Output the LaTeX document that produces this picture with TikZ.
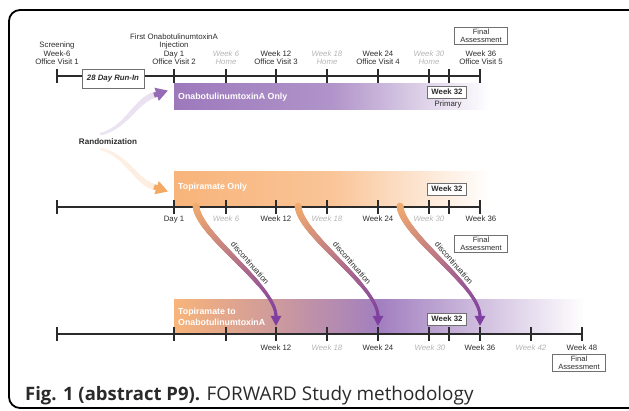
\documentclass[tikz,border=0pt]{standalone}
\usepackage{fontspec}
\setmainfont{Liberation Sans}
\newfontfamily\capfont{Open Sans}
\usetikzlibrary{arrows.meta,decorations.markings}
\definecolor{tlc}{HTML}{2B2B2B}
\definecolor{lgray}{HTML}{B5B5B5}
\definecolor{bpurple}{HTML}{9D79BC}
\definecolor{borange}{HTML}{F8B47A}
\definecolor{dpurple}{HTML}{7E3FA0}
\definecolor{corange}{HTML}{F2AC6E}
\definecolor{boxgray}{HTML}{707070}
\definecolor{capc}{HTML}{2A2A2A}
\tikzset{
  tline/.style={tlc, line width=2pt},
  tick/.style={tlc, line width=1.8pt},
  lab/.style={font=\fontsize{7.8}{8.4}\selectfont, text=tlc, align=center, inner sep=0pt},
  glab/.style={lab, text=lgray, font=\fontsize{7.8}{8.4}\selectfont\itshape},
  fabox/.style={draw=boxgray, line width=0.7pt, fill=white, align=center, inner sep=0.5pt,
    minimum width=53pt, minimum height=17pt, font=\fontsize{7.6}{8.2}\selectfont, text=tlc},
  wkbox/.style={draw=boxgray, line width=0.7pt, fill=white, inner sep=0.5pt,
    minimum width=39pt, minimum height=12pt, font=\fontsize{7.8}{8.4}\selectfont\bfseries, text=tlc},
  bandtext/.style={anchor=west, text=white, align=left, inner sep=0pt,
    font=\fontsize{8.8}{11}\selectfont\bfseries},
  disclab/.style={font=\fontsize{8}{8.4}\selectfont, text=tlc, rotate=-49, inner sep=0pt},
  gstroke/.style n args={4}{
    decoration={markings,
      mark=between positions 0 and 1 step 0.4pt with {%
        \pgfmathsetmacro\gpp{\pgfkeysvalueof{/pgf/decoration/mark info/distance from start}/\pgfdecoratedpathlength}%
        \pgfmathtruncatemacro\gpc{100*\gpp}%
        \pgfmathsetmacro\grr{#3+(#4-#3)*\gpp}%
        \fill[#2!\gpc!#1] (0pt,0pt) circle[radius=\grr pt];%
      }},
    decorate},
  darrow/.style={dpurple, line width=2.6pt, -{Triangle[length=10pt,width=10pt]}}
}
\begin{document}
\begin{tikzpicture}[x=1pt,y=-1pt]
\useasboundingbox (0,0) rectangle (629,411);
\clip (0,0) rectangle (629,411);
% frame
\draw[line width=1.8pt, rounded corners=11pt] (9,10) rectangle (645,408);

% bands
\shade[left color=bpurple, right color=white, middle color=bpurple!80!white] (174,84) rectangle (490,110);
\shade[left color=borange, right color=white, middle color=borange!78!white] (174,172) rectangle (490,206);
\shade[left color=borange, right color=white, middle color=bpurple!95!white] (174,300) rectangle (585,333);
\node[bandtext] (b1t) at (178,97) {OnabotulinumtoxinA Only};
\node[bandtext] (b2t) at (178,187) {Topiramate Only};
\node[bandtext] (b3t) at (178,316.5) {Topiramate to\\OnabotulinumtoxinA};

% timeline 1
\coordinate (t1s) at (57,76);
\coordinate (t1e) at (480,76);
\draw[tline] (t1s) -- (t1e);
\foreach \x in {57,174,226,276,327,378,429,449,480} \draw[tick] (\x,69) -- (\x,83);
\node[lab, anchor=south] (scr) at (57,65) {Screening\\Week-6\\Office Visit 1};
\node[lab, anchor=south] (first) at (174,65) {First OnabotulinumtoxinA\\Injection\\Day 1\\Office Visit 2};
\node[glab, anchor=south] (a6) at (226,65) {Week 6\\Home};
\node[lab, anchor=south] (a12) at (276,65) {Week 12\\Office Visit 3};
\node[glab, anchor=south] (a18) at (327,65) {Week 18\\Home};
\node[lab, anchor=south] (a24) at (378,65) {Week 24\\Office Visit 4};
\node[glab, anchor=south] (a30) at (429,65) {Week 30\\Home};
\node[lab, anchor=south] (a36) at (481,65) {Week 36\\Office Visit 5};
\node[fabox] (fa1) at (481,36) {Final\\Assessment};
\node[draw=boxgray, line width=0.7pt, fill=white, minimum width=62pt, minimum height=19pt, inner sep=0pt,
  font=\fontsize{7.8}{8.4}\selectfont\bfseries\itshape, text=tlc] (runin) at (113,78.5) {28 Day Run-In};
\node[wkbox] (w32a) at (447,92) {Week 32};
\node[lab] (prim) at (448,104) {Primary};

% randomization
\node[font=\fontsize{8.1}{9}\selectfont\bfseries, text=tlc, inner sep=0pt] (rand) at (108,142) {Randomization};
\coordinate (rp0) at (101,134);
\coordinate (rp1) at (156,94.5);
\coordinate (rp2) at (168,90.5);
\coordinate (ro0) at (101,149);
\coordinate (ro1) at (156,187.5);
\coordinate (ro2) at (168,191.5);
\path[gstroke={bpurple!20!white}{bpurple!75!dpurple}{1.3}{3}] (rp0) .. controls (128,127) and (136,99) .. (rp1);
\draw[bpurple!75!dpurple, line width=5pt, -{Triangle[length=12pt,width=13pt]}] (154,95.2) -- (rp2);
\path[gstroke={borange!20!white}{corange!90!orange}{1.3}{3}] (ro0) .. controls (128,156) and (136,183) .. (ro1);
\draw[corange!90!orange, line width=5pt, -{Triangle[length=12pt,width=13pt]}] (154,186.8) -- (ro2);

% timeline 2
\coordinate (t2s) at (57,207);
\coordinate (t2e) at (480,207);
\draw[tline] (t2s) -- (t2e);
\foreach \x in {57,174,226,276,327,378,429,449,480} \draw[tick] (\x,200) -- (\x,214);
\node[lab, anchor=north] (c1) at (174,216) {Day 1};
\node[glab, anchor=north] (c6) at (226,216) {Week 6};
\node[lab, anchor=north] (c12) at (276,216) {Week 12};
\node[glab, anchor=north] (c18) at (327,216) {Week 18};
\node[lab, anchor=north] (c24) at (378,216) {Week 24};
\node[glab, anchor=north] (c30) at (429,216) {Week 30};
\node[lab, anchor=north] (c36) at (481,216) {Week 36};
\node[wkbox] (w32b) at (447,189) {Week 32};
\node[fabox] (fa2) at (481,244) {Final\\Assessment};

% discontinuation curves
\foreach \k/\s in {1/0,2/102,3/204} {
  \coordinate (ds\k) at (196+\s,206);
  \coordinate (dm\k) at (276+\s,316);
  \coordinate (de\k) at (276+\s,326);
  \path[gstroke={corange}{dpurple}{3.3}{1.5}] (ds\k) .. controls (198+\s,235) and (275+\s,285) .. (dm\k);
  \draw[darrow] (276+\s,313) -- (de\k);
  \node[disclab] (dl\k) at (250+\s,263) {discontinuation};
}

% timeline 3
\coordinate (t3s) at (57,334);
\coordinate (t3e) at (582,334);
\draw[tline] (t3s) -- (t3e);
\foreach \x in {57,174,226,276,327,378,429,449,480,531,582} \draw[tick] (\x,327) -- (\x,341);
\node[lab, anchor=north] (e12) at (276,345) {Week 12};
\node[glab, anchor=north] (e18) at (327,345) {Week 18};
\node[lab, anchor=north] (e24) at (378,345) {Week 24};
\node[glab, anchor=north] (e30) at (430,345) {Week 30};
\node[lab, anchor=north] (e36) at (480,345) {Week 36};
\node[glab, anchor=north] (e42) at (531,345) {Week 42};
\node[lab, anchor=north] (e48) at (582,345) {Week 48};
\node[wkbox] (w32c) at (447,319) {Week 32};
\node[fabox] (fa3) at (579,363) {Final\\Assessment};

% caption
\node[anchor=base west, inner sep=0pt, text=capc, font=\capfont\fontsize{18.9}{20}\selectfont] (cap) at (25,400.5)
  {{\fontsize{18.5}{20}\selectfont\bfseries Fig. 1 (abstract P9).} FORWARD Study methodology};
\end{tikzpicture}
\end{document}
